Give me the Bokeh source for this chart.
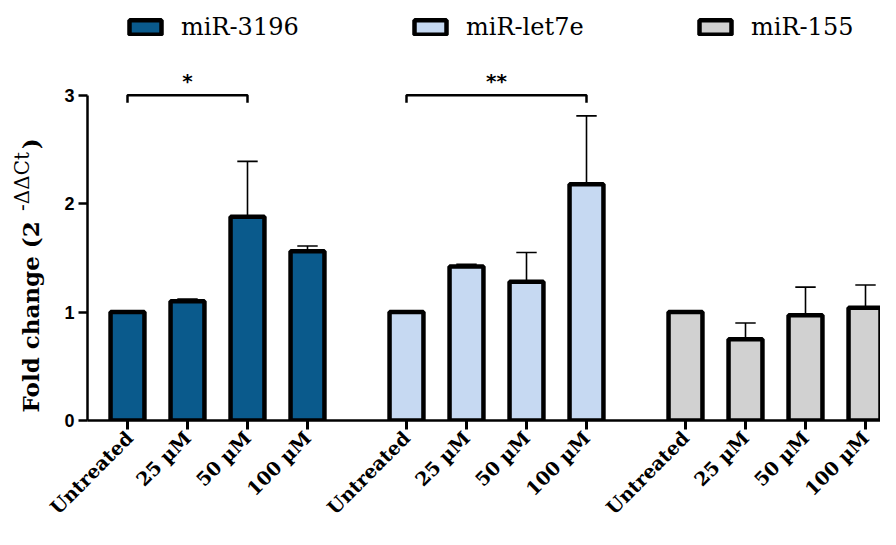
import math
from bokeh.plotting import figure
from bokeh.layouts import row
from bokeh.models import (ColumnDataSource, FixedTicker, Legend, LegendItem,
                          Range1d)
from bokeh.embed import file_html
from bokeh.resources import INLINE
from bokeh.core.properties import value

# ---------------- data ----------------
groups = ["miR-3196", "miR-let7e", "miR-155"]
doses = ["Untreated", "25 µM", "50 µM", "100 µM"]

mir3196_mean = [1.00, 1.10, 1.88, 1.56]
mir3196_err = [0.00, 0.02, 0.51, 0.05]
let7e_mean = [1.00, 1.42, 1.28, 2.18]
let7e_err = [0.00, 0.02, 0.27, 0.63]
mir155_mean = [1.00, 0.75, 0.97, 1.04]
mir155_err = [0.00, 0.15, 0.26, 0.21]

means = [mir3196_mean, let7e_mean, mir155_mean]
errs = [mir3196_err, let7e_err, mir155_err]
colors = ["#0a5a8c", "#c6d9f2", "#d1d1d1"]

# significance brackets
sig_group = [0, 1]
sig_from = [0, 0]
sig_to = [2, 3]
sig_text = ["*", "**"]
sig_level = 3.0

y_title = "Fold change (2"
y_title_sup = "-ΔΔCt"
y_title_end = ")"

# ---------------- layout ----------------
H = 529
BOTTOM = 108
FRAME_H = H - BOTTOM
TITLE_W = 45
slot = 20
group_step = 93
bar_w = 11.3
cap_half = 3.4

# narrow figure holding the rotated y-axis title (pixel coordinates)
tf = figure(width=TITLE_W, height=H, output_backend="svg", toolbar_location=None,
            x_range=Range1d(0, TITLE_W), y_range=Range1d(0, FRAME_H),
            x_axis_type=None, y_axis_type=None,
            min_border_left=0, min_border_right=0, min_border_top=0,
            min_border_bottom=BOTTOM)
tf.outline_line_color = None
tf.grid.visible = False
tf.text(x=[30], y=[8], text=[y_title], angle=math.pi / 2,
        text_align="left", text_baseline="middle",
        text_font=value("DejaVu Serif"), text_font_style="bold",
        text_font_size="23px", text_color="black")
tf.text(x=[21], y=[210], text=[y_title_sup], angle=math.pi / 2,
        text_align="left", text_baseline="middle",
        text_font=value("DejaVu Serif"), text_font_size="20px",
        text_color="black")
tf.text(x=[30], y=[272], text=[y_title_end], angle=math.pi / 2,
        text_align="left", text_baseline="middle",
        text_font=value("DejaVu Serif"), text_font_style="bold",
        text_font_size="23px", text_color="black")

p = figure(width=880 - TITLE_W, height=H, output_backend="svg",
           toolbar_location=None,
           x_range=Range1d(-13.333, 251.0), y_range=Range1d(0, 3.874),
           min_border_left=87 - TITLE_W, min_border_right=0, min_border_top=0,
           min_border_bottom=BOTTOM)
p.outline_line_color = None
p.xgrid.visible = False
p.ygrid.visible = False

legend_items = []
all_x = []
overrides = {}
for g in range(3):
    xs = [g * group_step + i * slot for i in range(4)]
    all_x += xs
    for x, d in zip(xs, doses):
        overrides[x] = d
    ex = [x for x, e in zip(xs, errs[g]) if e > 0]
    em = [m for m, e in zip(means[g], errs[g]) if e > 0]
    ee = [m + e for m, e in zip(means[g], errs[g]) if e > 0]
    p.segment(x0=ex, y0=em, x1=ex, y1=ee, line_color="black", line_width=1.6)
    p.segment(x0=[x - cap_half for x in ex], y0=ee,
              x1=[x + cap_half for x in ex], y1=ee,
              line_color="black", line_width=1.6)
    src = ColumnDataSource(dict(x=xs, top=means[g]))
    r = p.vbar(x="x", top="top", bottom=0, width=bar_w, source=src,
               fill_color=colors[g], line_color="black", line_width=4.5)
    legend_items.append(LegendItem(label=groups[g], renderers=[r]))

# brackets
bx, by, tx, ty = [], [], [], []
for g, a, b in zip(sig_group, sig_from, sig_to):
    x0 = g * group_step + a * slot
    x1 = g * group_step + b * slot
    bx.append([x0, x0, x1, x1])
    by.append([sig_level - 0.07, sig_level, sig_level, sig_level - 0.07])
    tx.append((x0 + x1) / 2)
    ty.append(sig_level + 0.13)
p.multi_line(xs=bx, ys=by, line_color="black", line_width=2.5)
p.text(x=tx, y=ty, text=sig_text, text_align="center", text_baseline="middle",
       text_font=value("DejaVu Sans"), text_font_style="bold",
       text_font_size="20px", text_color="black")

# axes
xa = p.xaxis[0]
xa.ticker = FixedTicker(ticks=all_x)
xa.major_label_overrides = overrides
xa.major_label_orientation = math.pi / 4
xa.axis_line_width = 2.5
xa.axis_line_color = "black"
xa.major_tick_line_width = 3
xa.major_tick_out = 9
xa.major_tick_in = 0
xa.minor_tick_line_color = None
xa.major_label_standoff = 5
xa.major_label_text_font = "DejaVu Serif"
xa.major_label_text_font_style = "bold"
xa.major_label_text_font_size = "19px"
xa.major_label_text_color = "black"

ya = p.yaxis[0]
ya.ticker = FixedTicker(ticks=[0, 1, 2, 3])
ya.bounds = (0, 3)
ya.axis_line_width = 2.5
ya.axis_line_color = "black"
ya.major_tick_line_width = 2.5
ya.major_tick_out = 9
ya.major_tick_in = 0
ya.minor_tick_line_color = None
ya.major_label_standoff = 4
ya.major_label_text_font = "Liberation Sans"
ya.major_label_text_font_style = "bold"
ya.major_label_text_font_size = "18px"
ya.major_label_text_color = "black"

legend = Legend(items=legend_items, orientation="horizontal",
                location=(38, 379), glyph_width=40, glyph_height=18,
                label_standoff=16, label_width=125, spacing=104,
                padding=0, margin=0, border_line_color=None,
                background_fill_alpha=0,
                label_text_font="DejaVu Serif", label_text_font_size="24px",
                label_text_color="black")
p.add_layout(legend)

layout = row(tf, p, spacing=0)
open("out.html", "w").write(file_html(layout, INLINE))
